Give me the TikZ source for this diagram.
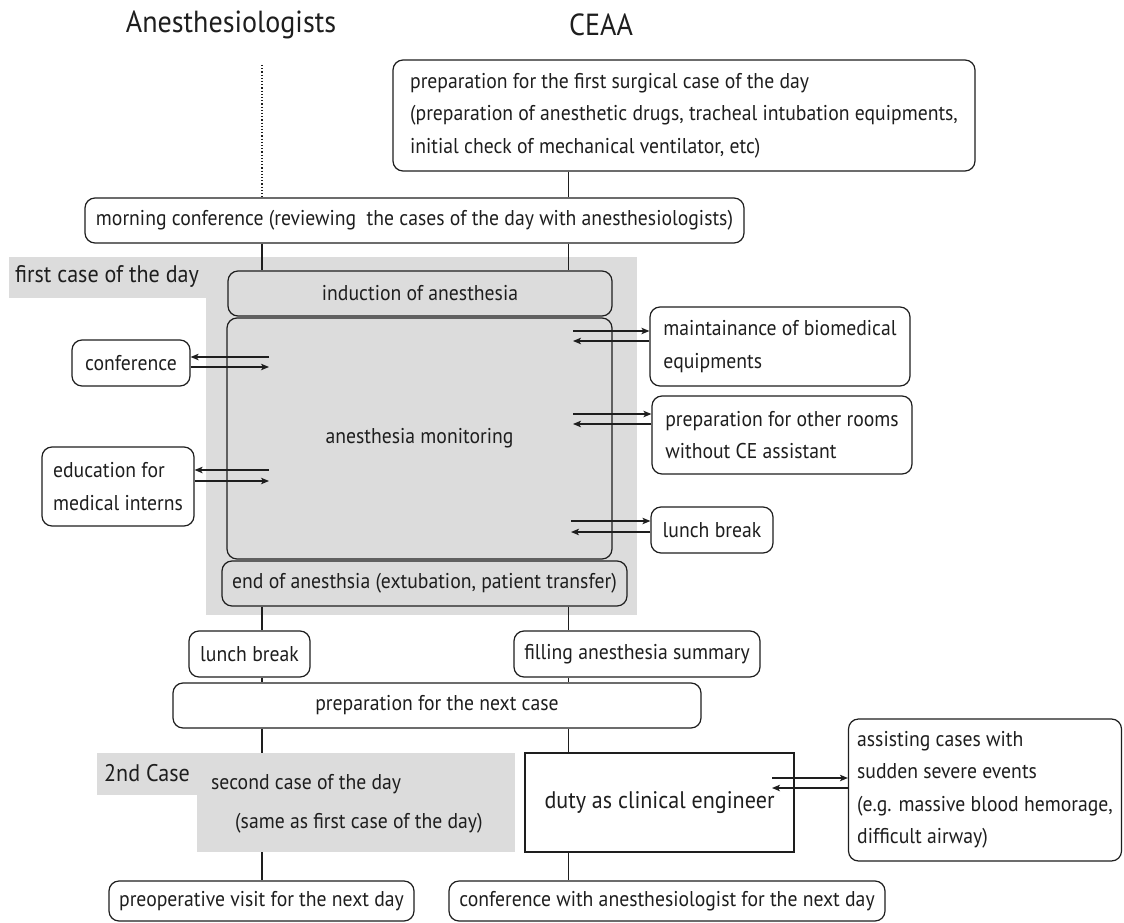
\documentclass[tikz,border=0pt]{standalone}
\usepackage{fontspec}
\setmainfont{PT Sans}[FakeStretch=0.92]
\usetikzlibrary{arrows.meta}
\definecolor{shade}{HTML}{DCDCDC}
\definecolor{ink}{HTML}{1E1E1E}
\newcommand\bodyfs{\fontsize{21.4}{32.5}\selectfont}
\newcommand\bigfs{\fontsize{24}{28}\selectfont}
\newcommand\titlefs{\fontsize{30.5}{34}\selectfont}
\begin{document}
\begin{tikzpicture}[x=1pt,y=-1pt,
  box/.style={draw=ink, line width=1.2pt, rounded corners=10pt, inner sep=0pt, font=\bodyfs, text=ink, fill=white},
  gbox/.style={box, fill=shade},
  region/.style={fill=shade, inner sep=0pt, draw=none},
  conn/.style={draw=ink, line width=1.2pt},
  arr/.style={draw=ink, line width=1.2pt, -{Stealth[length=8pt,width=6.5pt,inset=2pt]}},
  lbl/.style={inner sep=0pt, font=\bodyfs, text=ink, anchor=west},
  ttl/.style={inner sep=0pt, font=\titlefs, text=ink}]
\useasboundingbox (0,0) rectangle (1124,923);
\fill[white] (0,0) rectangle (1124,923);

% column guides
\coordinate (colL) at (262,0);
\coordinate (colR) at (568.5,0);

% titles
\node[ttl] (tA) at (231,25) {Anesthesiologists};
\node[ttl] (tC) at (601,25) {CEAA};

% shaded regions
\node[region, minimum width=431, minimum height=358, anchor=north west] (first) at (206,257) {};
\node[region, minimum width=198, minimum height=41, anchor=north west] (firstlbl) at (9,257) {};
\node[lbl, font=\bigfs] (firstt) at (15,276) {first case of the day};

\node[region, minimum width=318, minimum height=99, anchor=north west] (second) at (197,753) {};
\node[region, minimum width=101, minimum height=42, anchor=north west] (secondlbl) at (97,753) {};
\node[lbl, font=\bigfs] (secondt) at (104,773) {2nd Case};
\node[lbl] (sec1) at (211,784) {second case of the day};
\node[lbl] (sec2) at (235,823) {(same as first case of the day)};

% boxes
\node[box, minimum width=582, minimum height=111, align=left] (prep) at (684,115.5)
  {preparation for the first surgical case of the day\\(preparation of anesthetic drugs, tracheal intubation equipments,\\initial check of mechanical ventilator, etc)};
\node[box, minimum width=659, minimum height=45] (morning) at (414.5,220.5)
  {morning conference (reviewing\ \ the cases of the day with anesthesiologists)};
\node[gbox, minimum width=384, minimum height=45] (induct) at (420,293.5) {induction of anesthesia};
\node[gbox, minimum width=385, minimum height=241] (monitor) at (419.5,438.5) {anesthesia monitoring};
\node[gbox, minimum width=405, minimum height=45] (endan) at (424.5,583.5) {end of anesthsia (extubation, patient transfer)};

\node[box, minimum width=118, minimum height=46] (conf) at (131,363) {conference};
\node[box, minimum width=152, minimum height=79, align=left] (edu) at (118,486.5) {education for\\medical interns};

\node[box, minimum width=260, minimum height=79, align=left] (maint) at (780,346.5) {maintainance of biomedical\\equipments};
\node[box, minimum width=260, minimum height=78, align=left] (other) at (782,435) {preparation for other rooms\\without CE assistant};
\node[box, minimum width=122, minimum height=46] (lunchR) at (712,530) {lunch break};

\node[box, minimum width=121, minimum height=46] (lunchL) at (249.5,654) {lunch break};
\node[box, minimum width=246, minimum height=46] (fill) at (637,654) {filling anesthesia summary};
\node[box, minimum width=528, minimum height=45] (next) at (437,705.5) {preparation for the next case};

\node[box, rounded corners=0pt, minimum width=269, minimum height=99, font=\bigfs] (duty) at (659.5,802.5) {duty as clinical engineer};
\node[box, minimum width=273, minimum height=142, align=left] (assist) at (985,790)
  {assisting cases with\\sudden severe events\\(e.g. massive blood hemorage,\\difficult airway)};

\node[box, minimum width=305, minimum height=40] (preop) at (261.5,901) {preoperative visit for the next day};
\node[box, minimum width=436, minimum height=40] (confnext) at (667,901) {conference with anesthesiologist for the next day};

% vertical connectors
\coordinate (dotTop) at (262,65);
\draw[conn, dotted, line width=1.8pt] (dotTop) -- (colL |- morning.north);
\draw[conn] (colR |- prep.south) -- (colR |- morning.north);
\draw[conn] (colL |- morning.south) -- (colL |- induct.north);
\draw[conn] (colR |- morning.south) -- (colR |- induct.north);
\draw[conn] (colL |- endan.south) -- (colL |- lunchL.north);
\draw[conn] (colR |- endan.south) -- (colR |- fill.north);
\draw[conn] (colL |- lunchL.south) -- (colL |- next.north);
\draw[conn] (colR |- fill.south) -- (colR |- next.north);
\draw[conn] (colL |- next.south) -- (colL |- second.north);
\draw[conn] (colR |- next.south) -- (colR |- duty.north);
\draw[conn] (colL |- second.south) -- (colL |- preop.north);
\draw[conn] (colR |- duty.south) -- (colR |- confnext.north);

% side arrows (left)
\coordinate (mc1) at (269,357);
\coordinate (mc2) at (269,367);
\coordinate (me1) at (269,470);
\coordinate (me2) at (269,481);
\draw[arr] (mc1) -- (mc1 -| conf.east);
\draw[arr] (mc2 -| conf.east) -- (mc2);
\draw[arr] (me1) -- (me1 -| edu.east);
\draw[arr] (me2 -| edu.east) -- (me2);

% side arrows (right)
\coordinate (mm1) at (573,331);
\coordinate (mm2) at (573,341);
\coordinate (mo1) at (573,414);
\coordinate (mo2) at (573,424);
\coordinate (ml1) at (571,521);
\coordinate (ml2) at (571,532);
\draw[arr] (mm1) -- (mm1 -| maint.west);
\draw[arr] (mm2 -| maint.west) -- (mm2);
\draw[arr] (mo1) -- (mo1 -| other.west);
\draw[arr] (mo2 -| other.west) -- (mo2);
\draw[arr] (ml1) -- (ml1 -| lunchR.west);
\draw[arr] (ml2 -| lunchR.west) -- (ml2);

% duty <-> assist
\coordinate (md1) at (772,778);
\coordinate (md2) at (772,788);
\draw[arr] (md1) -- (md1 -| assist.west);
\draw[arr] (md2 -| assist.west) -- (md2);
\end{tikzpicture}
\end{document}
